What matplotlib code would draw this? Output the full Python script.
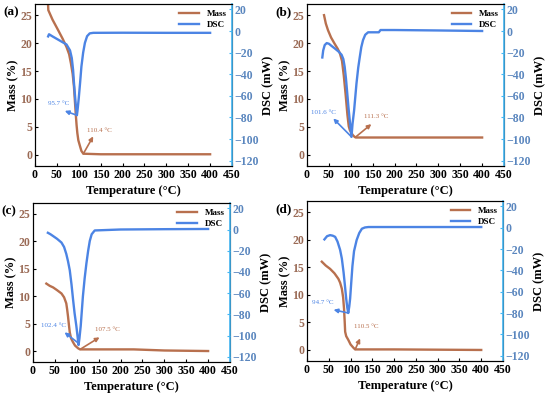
import numpy as np
import matplotlib
matplotlib.use("Agg")
import matplotlib.pyplot as plt

plt.rcParams['font.family'] = ['Liberation Serif', 'DejaVu Serif']
plt.rcParams['font.weight'] = 'bold'

MASS_COLOR = '#B8704E'
DSC_COLOR = '#4C84E4'
SPINE_BLUE = '#45B6F2'

# ---- panel (a)
a_mass_t = [29.5, 30.4, 40, 53, 63, 72, 78, 82, 86, 89, 91, 93, 95, 96.7, 99, 103, 106, 110.4, 150, 250, 400]
a_mass_v = [27.5, 25.9, 24.2, 22.3, 20.8, 19.3, 18.0, 16.4, 14.5, 12.2, 9.8, 7.4, 5.3, 3.9, 2.6, 1.5, 0.7, 0.2, 0.1, 0.1, 0.1]
a_dsc_t = [30, 32, 40, 55, 72, 80, 84, 87, 89, 91, 93, 95.7, 97, 100, 103, 106, 110, 114, 119, 125, 133, 200, 300, 400]
a_dsc_v = [-5, -3, -5, -8.5, -12.5, -18, -25, -36, -48, -58, -68, -78, -74, -62, -48, -33, -20, -11, -4.8, -2.2, -1.7, -1.6, -1.7, -1.7]

# ---- panel (b)
b_mass_t = [38.9, 43, 48, 55, 63, 70, 75, 80, 84, 88, 92.4, 95.4, 98, 101.6, 105, 109, 111.3, 200, 400]
b_mass_v = [25.0, 23.5, 22.3, 21.0, 19.9, 19.0, 18.2, 16.8, 14.2, 11.0, 7.1, 5.1, 4.4, 3.9, 3.5, 3.2, 3.1, 3.1, 3.1]
b_dsc_t = [35, 37, 40.5, 45, 50, 56, 63, 72, 79, 83, 86, 89, 92, 95, 97.7, 101.6, 104, 107.6, 113, 117, 120.6, 124, 128, 133, 139.6, 164, 168, 200, 300, 400]
b_dsc_v = [-24.5, -18, -13, -11.2, -11.8, -13.8, -16, -19, -22, -26, -33, -44, -58, -72, -83, -98, -86, -73.5, -48.7, -34, -24, -15, -8.4, -3.5, -1.2, -1.2, 0.9, 0.9, 0.5, 0.0]

# ---- panel (c)
c_mass_t = [30.5, 38, 46, 55, 65, 71, 76, 78, 80, 82, 84, 87, 91.5, 96, 103, 107.5, 230, 300, 400]
c_mass_v = [12.3, 11.9, 11.6, 11.1, 10.5, 9.8, 8.7, 7.6, 6.3, 4.8, 3.4, 2.3, 1.6, 1.0, 0.5, 0.3, 0.3, 0.1, 0.0]
c_dsc_t = [34, 40, 46, 55, 65, 71, 76, 80, 84, 88, 91.5, 95, 99, 102.4, 104, 106, 109, 114, 118, 122, 126, 129.7, 134, 141, 200, 300, 400]
c_dsc_v = [-3.1, -4.5, -6.2, -8.8, -12.3, -16.5, -23, -30, -38.5, -52, -66, -79, -91, -103, -109, -103, -91, -63, -46, -32, -20, -10.8, -4.5, -0.9, 0.0, 0.3, 0.5]

# ---- panel (d)
d_mass_t = [34, 43, 53, 63, 72, 76, 80, 83, 85, 86.5, 87.6, 90, 95, 100, 106.6, 110.5, 200, 400]
d_mass_v = [16.0, 15.3, 14.7, 13.9, 12.9, 12.2, 11.1, 9.5, 7.5, 5.2, 3.3, 2.5, 1.8, 1.0, 0.4, 0.1, 0.1, 0.0]
d_dsc_t = [40, 46, 53, 59, 64.6, 70, 76, 80, 84, 87, 90, 92.5, 94.7, 97, 99, 101.5, 104.3, 108, 114, 120, 126, 133, 141, 250, 400]
d_dsc_v = [-11, -8, -7, -7.5, -8.6, -13, -20.8, -29, -42, -54, -66.6, -75, -80, -74, -66.6, -52, -36, -22, -11.6, -5, -1, 0.2, 0.6, 0.6, 0.6]

panels = [
    ('(a)', a_mass_t, a_mass_v, a_dsc_t, a_dsc_v,
     ('95.7 °C', (95.7, -78), (68, -74), (53, -67)),
     ('110.4 °C', (110.4, 0.2), (133, 3.3), (146, 4.3))),
    ('(b)', b_mass_t, b_mass_v, b_dsc_t, b_dsc_v,
     ('101.6 °C', (101.6, -98), (60, -81), (38, -75)),
     ('111.3 °C', (111.3, 3.2), (147, 5.5), (158, 6.8))),
    ('(c)', c_mass_t, c_mass_v, c_dsc_t, c_dsc_v,
     ('102.4 °C', (103, -107), (72, -97), (47, -91)),
     ('107.5 °C', (107.5, 0.3), (152, 2.5), (170, 4.0))),
    ('(d)', d_mass_t, d_mass_v, d_dsc_t, d_dsc_v,
     ('94.7 °C', (94.7, -80), (61, -77), (37, -70)),
     ('110.5 °C', (110.5, 0.1), (122, 2.1), (136, 4.3))),
]

# axes boxes in pixels: left, right, top, bottom
boxes = [(35, 232, 4, 166), (307, 504, 4, 166),
         (33, 230, 203, 362), (307, 503, 201, 361)]

W, H = 550, 399
fig = plt.figure(figsize=(5.5, 3.99), dpi=100)

for (tag, mt, mv, dt, dv, dsc_ann, mass_ann), (l, r, t, b) in zip(panels, boxes):
    ax = fig.add_axes([l / W, 1 - b / H, (r - l) / W, (b - t) / H])
    ax2 = ax.twinx()

    lm, = ax.plot(mt, mv, color=MASS_COLOR, lw=1.7, label='Mass')
    ld, = ax2.plot(dt, dv, color=DSC_COLOR, lw=1.7, label='DSC')

    ax.set_xlim(0, 450)
    ax.set_ylim(-2, 27)
    ax2.set_ylim(-125, 25)
    ax.set_xticks(np.arange(0, 451, 50))
    ax.set_yticks(np.arange(0, 26, 5))
    ax2.set_yticks(np.arange(-120, 21, 20))

    ax.tick_params(axis='x', direction='in', length=2.5, labelsize=8.5, pad=2)
    ax.tick_params(axis='y', direction='in', length=2.5, labelsize=8.5,
                   labelcolor='#9A6A55', pad=2)
    ax2.tick_params(axis='y', direction='in', length=2.5, labelsize=8.5,
                    labelcolor='#5A86BE', color=SPINE_BLUE, pad=2)
    ax2.spines['right'].set_color(SPINE_BLUE)
    ax2.spines['right'].set_linewidth(1.2)

    ax.set_xlabel('Temperature (°C)', fontsize=9, fontweight='bold', labelpad=3)
    ax.set_ylabel('Mass (%)', fontsize=9, fontweight='bold', labelpad=1)
    ax2.set_ylabel('DSC (mW)', fontsize=9, fontweight='bold', labelpad=2)

    ax.text(-0.16, 0.985, tag, transform=ax.transAxes, fontsize=9.5,
            fontweight='bold', ha='left', va='top')

    ax.legend(handles=[lm, ld], loc='upper right', frameon=False,
              handlelength=2.2, borderaxespad=0.2, labelspacing=0.3,
              prop={'weight': 'bold', 'size': 6.5})

    txt, pt, tip, pos = dsc_ann
    ax2.annotate('', xy=tip, xytext=pt,
                 arrowprops=dict(arrowstyle='-|>', color=DSC_COLOR, lw=1.2,
                                 mutation_scale=6, shrinkA=0, shrinkB=0))
    ax2.text(pos[0], pos[1], txt, color=DSC_COLOR, fontsize=5,
             fontweight='normal', ha='center', va='center')

    txt, pt, tip, pos = mass_ann
    ax.annotate('', xy=tip, xytext=pt,
                arrowprops=dict(arrowstyle='-|>', color=MASS_COLOR, lw=1.2,
                                mutation_scale=6, shrinkA=0, shrinkB=0))
    ax.text(pos[0], pos[1], txt, color=MASS_COLOR, fontsize=5,
            fontweight='normal', ha='center', va='center')

fig.savefig('out.png', dpi=100)
